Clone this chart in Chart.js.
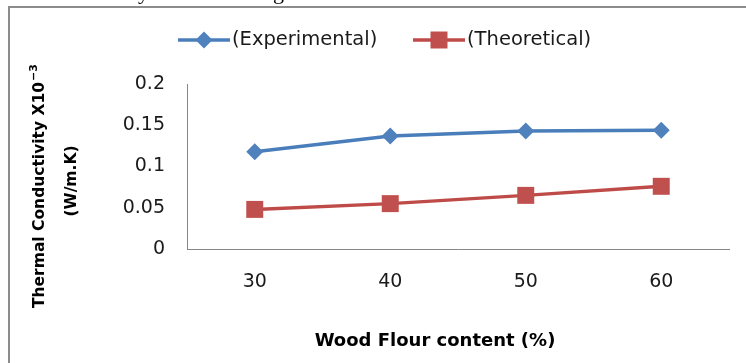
<!DOCTYPE html>
<html>
<head>
<meta charset="utf-8">
<script src="https://cdn.jsdelivr.net/npm/chart.js@4/dist/chart.umd.min.js"></script>
<style>
  html, body { margin: 0; padding: 0; background: #ffffff; }
  #wrap { width: 746px; height: 363px; }
</style>
</head>
<body>
<div id="wrap"><canvas id="chart" width="746" height="363"></canvas></div>
<script>
// Wood flour content (%) on the category axis
const categories = ['30', '40', '50', '60'];
// Thermal conductivity x10^-3 (W/m.K)
const experimental = [0.118, 0.137, 0.143, 0.144];
const theoretical = [0.048, 0.055, 0.065, 0.076];
const yTickValues = [0, 0.05, 0.1, 0.15, 0.2];
const seriesNames = ['(Experimental)', '(Theoretical)'];

const BLUE = '#4a7ebb';
const BLUE_MARK = '#4f81bd';
const RED = '#be4b48';
const RED_MARK = '#c0504d';
const FONT = '"DejaVu Sans", "Open Sans", sans-serif';

// Page frame and the clipped line of text above it
const framePlugin = {
  id: 'frame',
  beforeDraw(chart) {
    const ctx = chart.ctx;
    ctx.save();
    ctx.fillStyle = '#ffffff';
    ctx.fillRect(0, 0, chart.width, chart.height);
    ctx.fillStyle = '#8c8c8c';
    ctx.fillRect(8, 6, 2, chart.height - 6);
    ctx.fillRect(8, 6, chart.width - 8, 2);
    ctx.fillStyle = '#000000';
    ctx.font = '22px "Liberation Serif", serif';
    ctx.textBaseline = 'alphabetic';
    ctx.fillText('y', 138, -1);
    ctx.fillText('g', 273, -1);
    ctx.restore();
  }
};

// Legend: a short line with the series marker, then its name
const legendPlugin = {
  id: 'lineLegend',
  afterDraw(chart) {
    const ctx = chart.ctx;
    const starts = [178, 413];
    const y = 40;
    ctx.save();
    chart.data.datasets.forEach((ds, i) => {
      const x0 = starts[i];
      ctx.strokeStyle = ds.borderColor;
      ctx.lineWidth = ds.borderWidth;
      ctx.beginPath();
      ctx.moveTo(x0, y);
      ctx.lineTo(x0 + 52, y);
      ctx.stroke();
      ctx.fillStyle = ds.pointBackgroundColor;
      const cx = x0 + 26;
      ctx.beginPath();
      if (ds.pointStyle === 'rectRot') {
        const r = ds.pointRadius;
        ctx.moveTo(cx - r, y);
        ctx.lineTo(cx, y - r);
        ctx.lineTo(cx + r, y);
        ctx.lineTo(cx, y + r);
        ctx.closePath();
      } else {
        const h = Math.SQRT1_2 * ds.pointRadius;
        ctx.rect(cx - h, y - h, 2 * h, 2 * h);
      }
      ctx.fill();
      ctx.fillStyle = '#1a1a1a';
      ctx.font = '19.5px ' + FONT;
      ctx.textAlign = 'left';
      ctx.textBaseline = 'middle';
      ctx.fillText(ds.label, x0 + 54, y);
    });
    ctx.restore();
  }
};

// Axis titles, including the superscript exponent
const titlesPlugin = {
  id: 'axisTitles',
  afterDraw(chart) {
    const ctx = chart.ctx;
    const area = chart.chartArea;
    ctx.save();
    ctx.fillStyle = '#000000';
    ctx.textBaseline = 'middle';
    // x title
    ctx.font = 'bold 18px ' + FONT;
    ctx.textAlign = 'center';
    ctx.fillText('Wood Flour content (%)', (area.left + area.right) / 2 - 23, 341);
    // y title, rotated
    ctx.rotate(-Math.PI / 2);
    ctx.textAlign = 'left';
    ctx.font = 'bold 15.5px ' + FONT;
    const main = 'Thermal Conductivity X10';
    const w = ctx.measureText(main).width;
    ctx.fillText(main, -308, 40);
    ctx.font = 'bold 11px ' + FONT;
    ctx.fillText('\u22123', -308 + w + 1, 34);
    ctx.font = 'bold 15.5px ' + FONT;
    ctx.textAlign = 'center';
    ctx.fillText('(W/m.K)', -181, 72);
    ctx.restore();
  }
};

new Chart(document.getElementById('chart'), {
  type: 'line',
  data: {
    labels: categories,
    datasets: [
      {
        label: seriesNames[0],
        data: experimental,
        borderColor: BLUE,
        backgroundColor: BLUE_MARK,
        pointBackgroundColor: BLUE_MARK,
        pointBorderColor: BLUE_MARK,
        pointBorderWidth: 0,
        borderWidth: 3.5,
        pointStyle: 'rectRot',
        pointRadius: 8.5,
        tension: 0
      },
      {
        label: seriesNames[1],
        data: theoretical,
        borderColor: RED,
        backgroundColor: RED_MARK,
        pointBackgroundColor: RED_MARK,
        pointBorderColor: RED_MARK,
        pointBorderWidth: 0,
        borderWidth: 3.5,
        pointStyle: 'rect',
        pointRadius: 12,
        tension: 0
      }
    ]
  },
  options: {
    responsive: false,
    animation: false,
    devicePixelRatio: 1,
    layout: { padding: { top: 84, right: 17, bottom: 0, left: 0 } },
    plugins: {
      legend: { display: false },
      tooltip: { enabled: false }
    },
    scales: {
      x: {
        type: 'category',
        offset: true,
        grid: { display: false, drawTicks: false },
        border: { display: true, color: '#868686', width: 1 },
        ticks: {
          color: '#1a1a1a',
          font: { family: FONT, size: 19 },
          padding: 22,
          maxRotation: 0
        },
        afterFit(scale) { scale.height = 114; }
      },
      y: {
        min: 0,
        max: 0.2,
        grid: { display: false, drawTicks: false },
        border: { display: true, color: '#868686', width: 1 },
        ticks: {
          color: '#1a1a1a',
          font: { family: FONT, size: 19 },
          padding: 22,
          callback: (v) => String(v)
        },
        afterBuildTicks(scale) {
          scale.ticks = yTickValues.map(v => ({ value: v }));
        },
        afterFit(scale) { scale.width = 187; }
      }
    }
  },
  plugins: [framePlugin, legendPlugin, titlesPlugin]
});
</script>
</body>
</html>
